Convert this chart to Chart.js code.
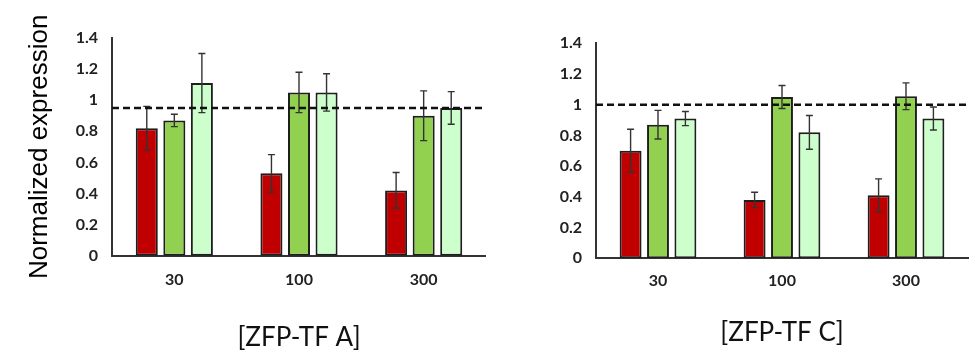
<!DOCTYPE html>
<html>
<head>
<meta charset="utf-8">
<script src="https://cdn.jsdelivr.net/npm/chart.js@4.4.1/dist/chart.umd.min.js"></script>
<style>
  html, body { margin: 0; padding: 0; background: #fff; }
  #wrap { position: relative; width: 972px; height: 356px; overflow: hidden; }
  canvas { position: absolute; top: 0; }
</style>
</head>
<body>
<div id="wrap">
  <canvas id="cA" width="486" height="356" style="left:0px"></canvas>
  <canvas id="cC" width="486" height="356" style="left:486px"></canvas>
</div>
<script>
// ---- data ----
const categories = ['30', '100', '300'];
const yTickLabels = ['0', '0.2', '0.4', '0.6', '0.8', '1', '1.2', '1.4'];

const A_red      = [0.82, 0.53, 0.42];
const A_redErr   = [0.14, 0.12, 0.115];
const A_green    = [0.87, 1.05, 0.90];
const A_greenErr = [0.04, 0.13, 0.16];
const A_light    = [1.11, 1.05, 0.95];
const A_lightErr = [0.19, 0.12, 0.105];
const A_ref = 0.95;

const C_red      = [0.70, 0.38, 0.41];
const C_redErr   = [0.14, 0.05, 0.107];
const C_green    = [0.87, 1.05, 1.055];
const C_greenErr = [0.093, 0.075, 0.087];
const C_light    = [0.91, 0.82, 0.91];
const C_lightErr = [0.046, 0.11, 0.075];
const C_ref = 1.0;

const COLORS = ['#C00000', '#92D050', '#CCFFCC'];

// ---- plugins ----
const overlayPlugin = {
  id: 'overlay',
  afterDatasetsDraw(chart, args, opts) {
    const ctx = chart.ctx;
    const ys = chart.scales.y;
    const area = chart.chartArea;
    // error bars
    ctx.save();
    ctx.strokeStyle = '#333';
    ctx.lineWidth = 1.4;
    chart.data.datasets.forEach((ds, di) => {
      const meta = chart.getDatasetMeta(di);
      meta.data.forEach((bar, i) => {
        const v = ds.data[i], e = ds.errors[i];
        const x = bar.x;
        const yt = ys.getPixelForValue(v + e);
        const yb = ys.getPixelForValue(v - e);
        const cw = 3.5;
        ctx.beginPath();
        ctx.moveTo(x, yt); ctx.lineTo(x, yb);
        ctx.moveTo(x - cw, yt); ctx.lineTo(x + cw, yt);
        ctx.moveTo(x - cw, yb); ctx.lineTo(x + cw, yb);
        ctx.stroke();
      });
    });
    // dashed reference line
    const yr = ys.getPixelForValue(opts.ref);
    ctx.strokeStyle = '#111';
    ctx.lineWidth = 2.5;
    ctx.setLineDash([7, 4]);
    ctx.beginPath();
    ctx.moveTo(area.left, yr);
    ctx.lineTo(area.right + opts.extend, yr);
    ctx.stroke();
    ctx.restore();
  }
};

function makeChart(id, series, errs, ref, title, geo) {
  const datasets = series.map((s, k) => ({
    data: s,
    errors: errs[k],
    backgroundColor: COLORS[k],
    borderColor: '#1e1e1e',
    borderWidth: 2,
    borderSkipped: false,
    categoryPercentage: 0.663,
    barPercentage: 0.8
  }));
  return new Chart(document.getElementById(id), {
    type: 'bar',
    data: { labels: categories, datasets },
    plugins: [overlayPlugin],
    options: {
      responsive: false,
      animation: false,
      events: [],
      layout: { padding: { top: geo.top, right: geo.right, bottom: 0, left: 0 } },
      plugins: {
        legend: { display: false },
        tooltip: { enabled: false },
        overlay: { ref: ref, extend: geo.extend }
      },
      scales: {
        x: {
          grid: { display: false, drawTicks: false },
          border: { display: true, color: '#333', width: 2 },
          ticks: {
            color: '#222',
            padding: geo.xTickPad,
            font: { family: 'Lato', weight: 'bold', size: 16 }
          },
          title: {
            display: true,
            text: title,
            color: '#111',
            font: { family: 'Lato', size: 26 },
            padding: { top: 0, bottom: geo.titlePad }
          },
          afterFit(scale) { scale.height = geo.xHeight; }
        },
        y: {
          min: 0, max: 1.4,
          grid: { display: false, drawTicks: false },
          border: { display: true, color: '#333', width: 2 },
          ticks: {
            stepSize: 0.2,
            color: '#222',
            padding: 14,
            font: { family: 'Lato', weight: 'bold', size: 16 },
            callback: (v, i) => yTickLabels[i]
          },
          title: {
            display: geo.yTitle,
            text: 'Normalized expression',
            color: '#000',
            font: { family: 'Liberation Sans', size: 26 },
            padding: { top: 24, bottom: 0 }
          },
          afterFit(scale) { scale.width = geo.yWidth; }
        }
      }
    }
  });
}

makeChart('cA', [A_red, A_green, A_light], [A_redErr, A_greenErr, A_lightErr], A_ref, '[ZFP-TF A]',
  { top: 38, right: 0, yWidth: 112, xHeight: 100.3, xTickPad: 15, titlePad: 3, yTitle: true, extend: 0 });
makeChart('cC', [C_red, C_green, C_light], [C_redErr, C_greenErr, C_lightErr], C_ref, '[ZFP-TF C]',
  { top: 43.3, right: 4, yWidth: 110, xHeight: 97.7, xTickPad: 13, titlePad: 8, yTitle: false, extend: 0 });
</script>
</body>
</html>
